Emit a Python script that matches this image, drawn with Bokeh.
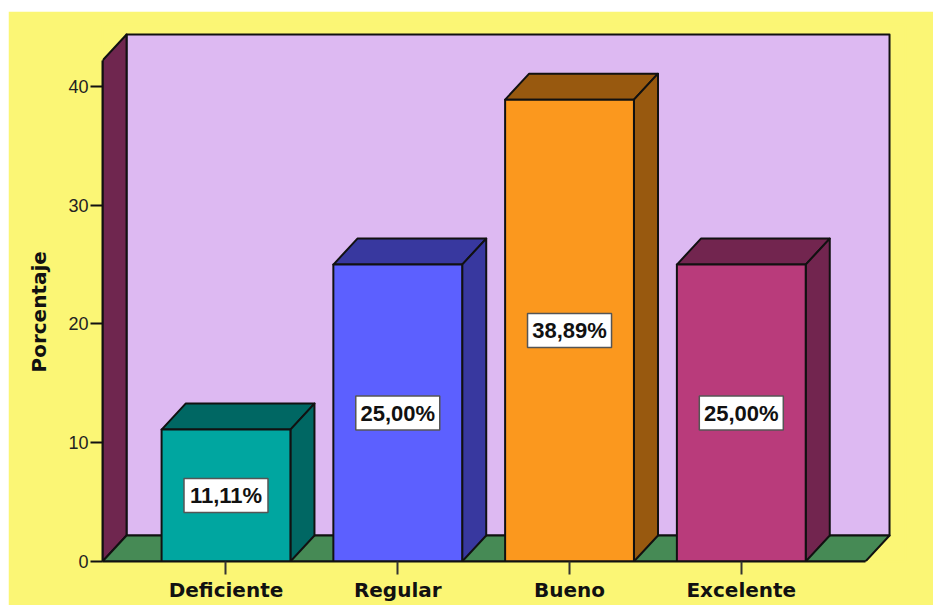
from bokeh.plotting import figure
from bokeh.models import Range1d, FixedTicker, Title, ColumnDataSource
from bokeh.core.properties import value
from bokeh.embed import file_html
from bokeh.resources import INLINE

categories = ["Deficiente", "Regular", "Bueno", "Excelente"]
percent = [11.11, 25.00, 38.89, 25.00]
percent_labels = ["11,11%", "25,00%", "38,89%", "25,00%"]
y_ticks = [0, 10, 20, 30, 40]
face_colors = ["#00A6A0", "#5C60FF", "#FB981E", "#B93B7B"]
dark_colors = ["#006763", "#38389F", "#98590F", "#72254F"]

YELLOW = "#FBF675"
WALL = "#DDB9F2"
SIDE = "#6F264F"
FLOOR = "#468A55"
INK = "#111111"

X0, X1 = 0.281, 4.723      # floor front edge, in category units
Y1 = 42.19                 # top of the front of the left wall
DX, DY = 0.14, 2.19        # depth of the 3D offset
BAR = 0.75

p = figure(width=925, height=594, output_backend="svg", toolbar_location=None,
           x_range=Range1d(X0, 4.956), y_range=Range1d(0, 45.22),
           min_border_left=94, min_border_right=28, min_border_top=13, min_border_bottom=44,
           background_fill_color=YELLOW, border_fill_color=YELLOW,
           outline_line_color=YELLOW, outline_line_width=2)
p.margin = (11, 0, 0, 8)
p.grid.visible = False

def box(xs, ys, fill):
    p.patch(xs, ys, fill_color=fill, line_color=INK, line_width=2, line_join="round")

# walls and floor
box([X0 + DX, X1 + DX, X1 + DX, X0 + DX], [DY, DY, Y1 + DY, Y1 + DY], WALL)
box([X0, X0 + DX, X0 + DX, X0], [0, DY, Y1 + DY, Y1], SIDE)
box([X0, X1, X1 + DX, X0 + DX], [0, 0, DY, DY], FLOOR)

# bars
for i, v in enumerate(percent):
    c = i + 1
    l, r = c - BAR / 2, c + BAR / 2
    box([l, r, r + DX, l + DX], [v, v, v + DY, v + DY], dark_colors[i])
    box([r, r + DX, r + DX, r], [0, DY, v + DY, v], dark_colors[i])
    box([l, r, r, l], [0, 0, v, v], face_colors[i])

# data labels
src = ColumnDataSource(dict(x=[1, 2, 3, 4], y=[v / 2 for v in percent], t=percent_labels))
p.rect("x", "y", source=src, width=84, height=34, width_units="screen", height_units="screen",
       fill_color="#FFFFFF", line_color="#555555", line_width=1.5)
p.text("x", "y", text="t", source=src, text_align="center", text_baseline="middle",
       text_font=value("Liberation Sans"), text_font_style="bold", text_font_size="22px",
       text_color="#111111")

# axes
xa = p.xaxis[0]
xa.ticker = FixedTicker(ticks=[1, 2, 3, 4])
xa.major_label_overrides = {i + 1: c for i, c in enumerate(categories)}
xa.bounds = (X0, X1)
xa.axis_line_color = INK
xa.axis_line_width = 2
xa.major_tick_line_color = "#333333"
xa.major_tick_line_width = 2
xa.major_tick_out = 13
xa.major_tick_in = 0
xa.minor_tick_line_color = None
xa.major_label_standoff = 3
xa.major_label_text_font = "DejaVu Sans"
xa.major_label_text_font_style = "bold"
xa.major_label_text_font_size = "20px"
xa.major_label_text_color = "#111111"

ya = p.yaxis[0]
ya.ticker = FixedTicker(ticks=y_ticks)
ya.bounds = (0, Y1)
ya.axis_line_color = INK
ya.axis_line_width = 2
ya.major_tick_line_color = INK
ya.major_tick_line_width = 2
ya.major_tick_out = 12
ya.major_tick_in = 0
ya.minor_tick_line_color = None
ya.major_label_standoff = 2
ya.major_label_text_font = "Liberation Sans"
ya.major_label_text_font_size = "18px"
ya.major_label_text_color = "#222222"

p.add_layout(Title(text="Porcentaje", align="left", offset=189, standoff=30,
                   text_font="DejaVu Sans", text_font_style="bold", text_font_size="20px",
                   text_color="#111111"), "left")

open("out.html", "w").write(file_html(p, INLINE))
